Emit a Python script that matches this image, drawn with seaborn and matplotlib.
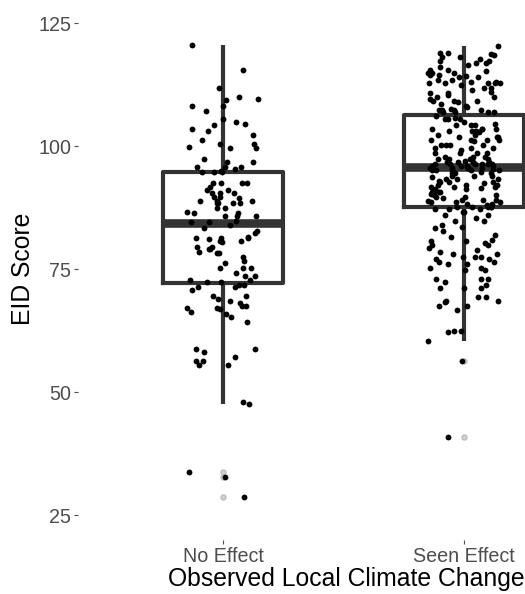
import matplotlib
matplotlib.use("Agg")
import matplotlib.pyplot as plt
import numpy as np
import pandas as pd
import seaborn as sns

categories = ["No Effect", "Seen Effect"]

# EID scores, one list per group
no_effect = [
    120.6, 115.4, 111.8, 110.0, 109.7, 109.3, 108.2, 108.2, 107.1, 105.5,
    105.0, 104.5, 104.3, 103.6, 103.0, 102.2, 101.3, 100.4, 100.4, 99.8,
    99.6, 99.6, 97.5, 96.8, 96.8, 95.8, 95.8, 95.8, 95.3, 95.0, 94.8, 94.8,
    94.8, 92.6, 92.6, 92.6, 92.6, 91.8, 91.1, 91.1, 90.4, 90.4, 90.4, 89.7,
    89.7, 89.4, 88.9, 88.9, 88.9, 88.4, 88.4, 88.4, 88.4, 87.4, 87.4, 86.7,
    86.4, 86.4, 85.9, 85.9, 85.9, 84.8, 84.6, 84.6,
    84.0, 83.3, 82.8, 82.3, 81.5, 81.3, 81.3, 81.3, 81.1, 80.7, 80.7,
    80.5, 79.6, 79.6, 79.1, 79.1, 78.5, 78.2, 78.2, 77.5, 76.6, 76.2, 75.3,
    75.3, 75.3, 74.3, 73.7, 73.7, 72.8, 72.8, 72.4, 72.4,
    71.8, 71.8, 71.4, 71.4, 70.7, 69.5, 69.5, 69.0, 68.5, 68.2, 67.6, 67.6,
    67.1, 67.1, 66.9, 66.2, 65.8, 65.3, 64.2, 58.7, 58.7, 58.2, 57.1, 56.4,
    56.4, 55.6, 55.6, 48.0, 47.5, 33.7, 32.8, 28.6,
]

seen_effect = [
    120.4, 119.0, 119.0, 118.8, 118.6, 118.2, 118.2, 117.7, 117.4, 117.4,
    116.9, 116.9, 116.5, 116.2, 115.6, 115.6, 115.2, 114.8, 114.8, 114.8,
    114.8, 114.5, 114.5, 114.2, 114.0, 114.0, 113.5, 113.5, 113.1, 113.0,
    112.8, 112.8, 112.8, 112.8, 112.8, 112.4, 111.8, 111.8, 111.5, 111.1,
    110.8, 110.8, 110.4, 110.1, 110.1, 109.5, 109.1, 109.1, 109.1, 108.9,
    108.6, 108.2, 107.9, 107.6, 107.4, 107.4, 107.4, 107.4, 107.0, 107.0,
    107.0, 107.0,
    106.1, 105.8, 105.5, 105.5, 105.5, 104.9, 104.6, 104.3, 104.3, 104.3,
    103.6, 103.6, 103.6, 103.6, 103.0, 103.0, 103.0, 102.9, 102.3, 102.3,
    101.8, 101.8, 101.8, 101.3, 101.3, 101.3, 101.3, 101.0, 100.2, 100.2,
    100.2, 100.2, 99.6, 99.6, 99.6, 99.2, 98.7, 98.7, 98.7, 98.7, 97.9,
    97.9, 97.9, 97.4, 97.4, 97.4, 97.4, 97.0, 96.8, 96.8, 96.8, 96.8, 96.3,
    96.3, 96.3, 96.3, 96.3, 96.3, 95.9, 95.9, 95.9, 95.9,
    95.6, 95.6, 95.6, 95.6, 95.6, 95.4, 95.2, 95.2, 95.2, 95.2, 95.2, 94.8,
    94.5, 94.5, 94.5, 94.5, 94.0, 94.0, 94.0, 93.8, 93.3, 93.3, 93.3, 93.0,
    92.8, 92.8, 92.8, 92.5, 92.2, 92.2, 92.2, 91.8, 91.8, 91.8, 91.6, 91.3,
    91.3, 90.9, 90.6, 90.6, 90.6, 90.3, 90.1, 90.1, 89.7, 89.7, 89.4, 89.1,
    89.1, 89.1, 88.9, 88.6, 88.6, 88.6, 88.2, 88.2, 88.0, 87.7, 87.7, 87.7,
    87.7, 87.7,
    87.2, 87.2, 87.2, 86.7, 86.7, 86.0, 86.0, 85.5, 84.8, 84.8, 84.0, 83.6,
    83.3, 82.8, 81.9, 81.5, 80.9, 80.7, 80.7, 80.4, 80.0, 80.0, 79.3, 78.9,
    78.5, 78.0, 78.0, 77.5, 77.5, 77.5, 77.0, 77.0, 76.5, 76.5, 76.0, 76.0,
    75.2, 75.2, 74.8, 74.8, 73.0, 73.0, 73.0, 72.3, 71.8, 71.1, 71.1, 71.1,
    69.3, 69.3, 68.6, 68.6, 68.3, 67.5, 67.5, 66.6, 62.4, 62.4, 62.2, 60.4,
    56.4, 40.9,
]

y_ticks = [25, 50, 75, 100, 125]

df = pd.DataFrame({
    "group": [categories[0]] * len(no_effect) + [categories[1]] * len(seen_effect),
    "eid": no_effect + seen_effect,
})

fig = plt.figure(figsize=(5.25, 5.94), dpi=100)
ax = fig.add_axes([0.1486, 0.0916, 0.8514, 0.9106])

sns.boxplot(
    data=df, x="group", y="eid", order=categories, ax=ax,
    fill=False, color="#333333", width=0.5, linewidth=3.0, whis=1.5,
    medianprops={"linewidth": 6.2},
    capprops={"visible": False},
    flierprops={"marker": "o", "markersize": 3.6,
                "markerfacecolor": "#d0d0d0", "markeredgecolor": "#bdbdbd"},
)

np.random.seed(7)
sns.stripplot(
    data=df, x="group", y="eid", order=categories, ax=ax,
    color="black", size=4.2, jitter=0.15, linewidth=0, zorder=5,
)

ax.set_xlim(-0.6017, 1.253)
ax.set_ylim(20, 130)
ax.set_yticks(y_ticks)
for side in ["top", "right", "left", "bottom"]:
    ax.spines[side].set_visible(False)
ax.tick_params(axis="both", colors="#4d4d4d", length=3, width=0.8,
               labelsize=14.2, pad=2)
for lab in ax.get_xticklabels() + ax.get_yticklabels():
    lab.set_fontfamily("Liberation Sans")
ax.set_xlabel("Observed Local Climate Change", fontsize=17.8,
              family="Liberation Sans", color="black", labelpad=2)
ax.set_ylabel("EID Score", fontsize=17.8, family="Liberation Sans",
              color="black", labelpad=2)
# the original panel runs past the right edge, so its title sits right of centre
ax.xaxis.set_label_coords(0.6007, -0.050)

fig.savefig("out.png", dpi=100)
